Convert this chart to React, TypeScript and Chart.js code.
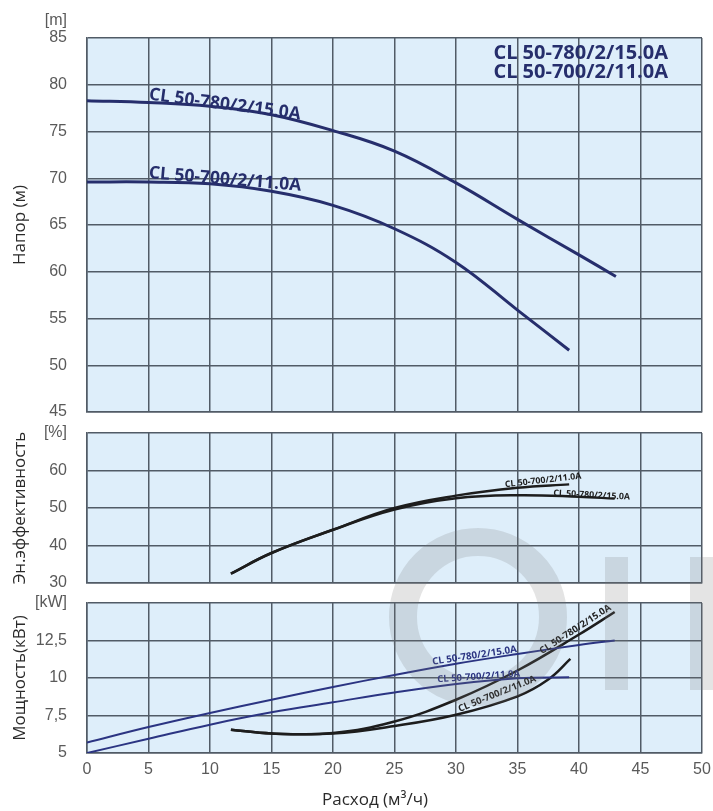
import React, { useEffect, useRef } from 'react';
import { Chart, registerables } from 'chart.js';

Chart.register(...registerables);

// ---------- data ----------
const modelA = 'CL 50-780/2/15.0A';
const modelB = 'CL 50-700/2/11.0A';

// Head (m) vs flow (m3/h)
const headFlowA = [0, 5, 10, 15, 20, 25, 30, 35, 40, 43];
const headA = [78.3, 78.1, 77.7, 76.8, 75.1, 72.9, 69.5, 65.6, 61.8, 59.5];
const headFlowB = [0, 5, 10, 15, 20, 25, 30, 35, 39.2];
const headB = [69.6, 69.6, 69.4, 68.6, 67.1, 64.6, 61.0, 55.9, 51.6];

// Efficiency (%)
const effFlowA = [11.7, 15, 20, 25, 30, 35, 40, 42.9];
const effA = [32.5, 38.0, 44.2, 49.6, 52.6, 53.4, 53.0, 52.5];
const effFlowB = [11.7, 15, 20, 25, 30, 35, 39.2];
const effB = [32.5, 38.0, 44.2, 50.0, 53.3, 55.4, 56.3];

// Power (kW) - blue lines
const powBlueFlowA = [0, 5, 10, 15, 20, 25, 30, 35, 40, 42.9];
const powBlueA = [5.7, 6.73, 7.67, 8.55, 9.4, 10.2, 10.95, 11.6, 12.2, 12.5];
const powBlueFlowB = [0, 5, 10, 15, 20, 25, 30, 35, 39.2];
const powBlueB = [5.0, 5.95, 6.89, 7.71, 8.38, 9.04, 9.6, 9.98, 10.05];
// Power (kW) - black curves
const powBlackFlowA = [11.7, 15, 20, 25, 30, 35, 40, 42.9];
const powBlackA = [6.55, 6.3, 6.33, 7.1, 8.55, 10.5, 12.9, 14.4];
const powBlackFlowB = [11.7, 15, 20, 25, 30, 35, 37.5, 39.3];
const powBlackB = [6.55, 6.3, 6.3, 6.8, 7.55, 8.78, 9.9, 11.27];

// axis ranges / ticks
const flowMin = 0, flowMax = 50, flowStep = 5;
const headMin = 45, headMax = 85, headStep = 5;
const effMin = 30, effMax = 70, effStep = 10;
const powMin = 5, powMax = 15, powStep = 2.5;

// ---------- styles ----------
const gridColor = '#515b66';
const plotBg = '#deeefa';
const navy = '#262e6c';
const blue = '#2b3482';
const black = '#1d1d1d';
const tickFont = { family: '"Liberation Sans", Arial, sans-serif', size: 16 };
const tickColor = '#5a5a5a';
const titleFont = { family: '"Open Sans", sans-serif', size: 17 };
const labelFamily = '"Open Sans", sans-serif';
const watermark = 'rgba(120,120,120,0.2)';

const pts = (xs: number[], ys: number[]) => xs.map((x, i) => ({ x, y: ys[i] }));

const bgPlugin = {
  id: 'plotBg',
  beforeDraw(chart: any) {
    const { ctx, chartArea } = chart;
    if (!chartArea) return;
    ctx.save();
    ctx.fillStyle = plotBg;
    ctx.fillRect(chartArea.left, chartArea.top, chartArea.right - chartArea.left, chartArea.bottom - chartArea.top);
    ctx.restore();
  },
};

const textPlugin = {
  id: 'curveText',
  afterDatasetsDraw(chart: any, _args: any, opts: any) {
    const { ctx, chartArea, scales } = chart;
    ctx.save();
    (opts.items || []).forEach((it: any) => {
      const px = scales.x.getPixelForValue(it.x);
      const py = scales.y.getPixelForValue(it.y) + (it.dy || 0);
      ctx.save();
      ctx.translate(px, py);
      ctx.rotate((it.angle * Math.PI) / 180);
      ctx.font = `bold ${it.size}px ${labelFamily}`;
      ctx.fillStyle = it.color;
      ctx.textAlign = 'left';
      ctx.textBaseline = 'alphabetic';
      ctx.fillText(it.text, 0, 0);
      ctx.restore();
    });
    if (opts.corner) {
      const c = opts.corner;
      ctx.font = `bold ${c.size}px ${labelFamily}`;
      ctx.fillStyle = c.color;
      ctx.textAlign = 'right';
      ctx.textBaseline = 'alphabetic';
      c.lines.forEach((t: string, i: number) => {
        ctx.fillText(t, chartArea.right - c.dxRight, chartArea.top + c.firstBaseline + i * c.gap);
      });
    }
    if (opts.unit) {
      ctx.font = `${tickFont.size}px ${tickFont.family}`;
      ctx.fillStyle = tickColor;
      ctx.textAlign = 'right';
      ctx.textBaseline = 'middle';
      ctx.fillText(opts.unit, chartArea.left - 20, chartArea.top - 17);
    }
    ctx.restore();
  },
};

function makeConfig(p: any) {
  return {
    type: 'line',
    data: {
      datasets: p.datasets.map((d: any) => ({
        data: d.data,
        borderColor: d.color,
        borderWidth: d.width,
        pointRadius: 0,
        fill: false,
        tension: 0.4,
      })),
    },
    options: {
      animation: false,
      responsive: false,
      events: [],
      layout: { padding: p.padding },
      plugins: {
        legend: { display: false },
        tooltip: { enabled: false },
        curveText: p.text,
      },
      scales: {
        x: {
          type: 'linear',
          min: flowMin,
          max: flowMax,
          ticks: {
            stepSize: flowStep,
            display: p.showX,
            color: tickColor,
            font: tickFont,
            padding: 0,
            maxRotation: 0,
          },
          grid: {
            color: gridColor,
            lineWidth: 1.5,
            drawTicks: p.showX,
            tickLength: 7,
            tickColor: 'rgba(0,0,0,0)',
          },
          border: { color: gridColor, width: 1.5 },
          afterFit: (s: any) => { s.height = p.xHeight; },
        },
        y: {
          type: 'linear',
          min: p.yMin,
          max: p.yMax,
          ticks: {
            stepSize: p.yStep,
            color: tickColor,
            font: tickFont,
            padding: 0,
            callback: p.tickCb,
          },
          grid: {
            color: gridColor,
            lineWidth: 1.5,
            drawTicks: true,
            tickLength: 20,
            tickColor: 'rgba(0,0,0,0)',
          },
          border: { color: gridColor, width: 1.5 },
          title: {
            display: true,
            text: p.title,
            font: titleFont,
            color: '#2a2a2a',
            padding: { top: 10, bottom: 0 },
          },
          afterFit: (s: any) => { s.width = 87; },
        },
      },
    },
    plugins: [bgPlugin, textPlugin],
  };
}

export default function App() {
  const c1 = useRef<HTMLCanvasElement>(null);
  const c2 = useRef<HTMLCanvasElement>(null);
  const c3 = useRef<HTMLCanvasElement>(null);

  useEffect(() => {
    const headChart = new Chart(c1.current as any, makeConfig({
      padding: { top: 38, bottom: 13, left: 0, right: 11 },
      showX: false,
      xHeight: 0,
      yMin: headMin, yMax: headMax, yStep: headStep,
      title: 'Напор (м)',
      tickCb: (v: number) => String(v),
      datasets: [
        { data: pts(headFlowA, headA), color: navy, width: 3 },
        { data: pts(headFlowB, headB), color: navy, width: 3 },
      ],
      text: {
        unit: '[m]',
        corner: { lines: [modelA, modelB], size: 20, color: navy, dxRight: 34, firstBaseline: 21, gap: 18.5 },
        items: [
          { text: modelA, x: 5, y: 78.1, dy: -3, angle: 7.5, size: 17.5, color: navy },
          { text: modelB, x: 5, y: 69.6, dy: -4, angle: 4.8, size: 17.5, color: navy },
        ],
      },
    }) as any);

    const effChart = new Chart(c2.current as any, makeConfig({
      padding: { top: 18, bottom: 17, left: 0, right: 11 },
      showX: false,
      xHeight: 0,
      yMin: effMin, yMax: effMax, yStep: effStep,
      title: 'Эн.эффективность',
      tickCb: (v: number) => (v === effMax ? '[%]' : String(v)),
      datasets: [
        { data: pts(effFlowA, effA), color: black, width: 2.5 },
        { data: pts(effFlowB, effB), color: black, width: 2.5 },
      ],
      text: {
        items: [
          { text: modelB, x: 34, y: 55.0, dy: -2, angle: -6.5, size: 8.8, color: black },
          { text: modelA, x: 37.9, y: 53.3, dy: 0, angle: 3, size: 8.8, color: black },
        ],
      },
    }) as any);

    const powChart = new Chart(c3.current as any, makeConfig({
      padding: { top: 18, bottom: 0, left: 0, right: 11 },
      showX: true,
      xHeight: 58,
      yMin: powMin, yMax: powMax, yStep: powStep,
      title: 'Мощность(кВт)',
      tickCb: (v: number) => (v === powMax ? '[kW]' : String(v).replace('.', ',')),
      datasets: [
        { data: pts(powBlueFlowA, powBlueA), color: blue, width: 2 },
        { data: pts(powBlueFlowB, powBlueB), color: blue, width: 2 },
        { data: pts(powBlackFlowA, powBlackA), color: black, width: 2.5 },
        { data: pts(powBlackFlowB, powBlackB), color: black, width: 2.5 },
      ],
      text: {
        items: [
          { text: modelA, x: 28.1, y: 10.75, dy: -2, angle: -8.5, size: 9.8, color: blue },
          { text: modelB, x: 28.5, y: 9.45, dy: -4, angle: -4, size: 9.5, color: blue },
          { text: modelB, x: 30.3, y: 7.6, dy: -2, angle: -22, size: 9.5, color: black },
          { text: modelA, x: 37.0, y: 11.45, dy: -2, angle: -33, size: 9.5, color: black },
        ],
      },
    }) as any);

    return () => {
      headChart.destroy();
      effChart.destroy();
      powChart.destroy();
    };
  }, []);

  return (
    <div style={{ position: 'absolute', left: 0, top: 0, width: 713, height: 811, background: '#fff', overflow: 'hidden' }}>
      <canvas ref={c1} width={713} height={425} style={{ position: 'absolute', left: 0, top: 0 }} />
      <canvas ref={c2} width={713} height={185} style={{ position: 'absolute', left: 0, top: 415 }} />
      <canvas ref={c3} width={713} height={226} style={{ position: 'absolute', left: 0, top: 585 }} />
      {/* faint watermark logo */}
      <div style={{ position: 'absolute', left: 389, top: 528, width: 178, height: 178, boxSizing: 'border-box', borderRadius: '50%', border: `28px solid ${watermark}`, pointerEvents: 'none' }} />
      <div style={{ position: 'absolute', left: 605, top: 557, width: 23, height: 133, background: watermark, pointerEvents: 'none' }} />
      <div style={{ position: 'absolute', left: 690, top: 557, width: 23, height: 133, background: watermark, pointerEvents: 'none' }} />
      <div
        style={{
          position: 'absolute', left: 275, top: 788, width: 200, textAlign: 'center',
          fontFamily: '"Open Sans", sans-serif', fontSize: 17, lineHeight: '22px', color: '#2a2a2a',
        }}
      >
        Расход (м³/ч)
      </div>
    </div>
  );
}
